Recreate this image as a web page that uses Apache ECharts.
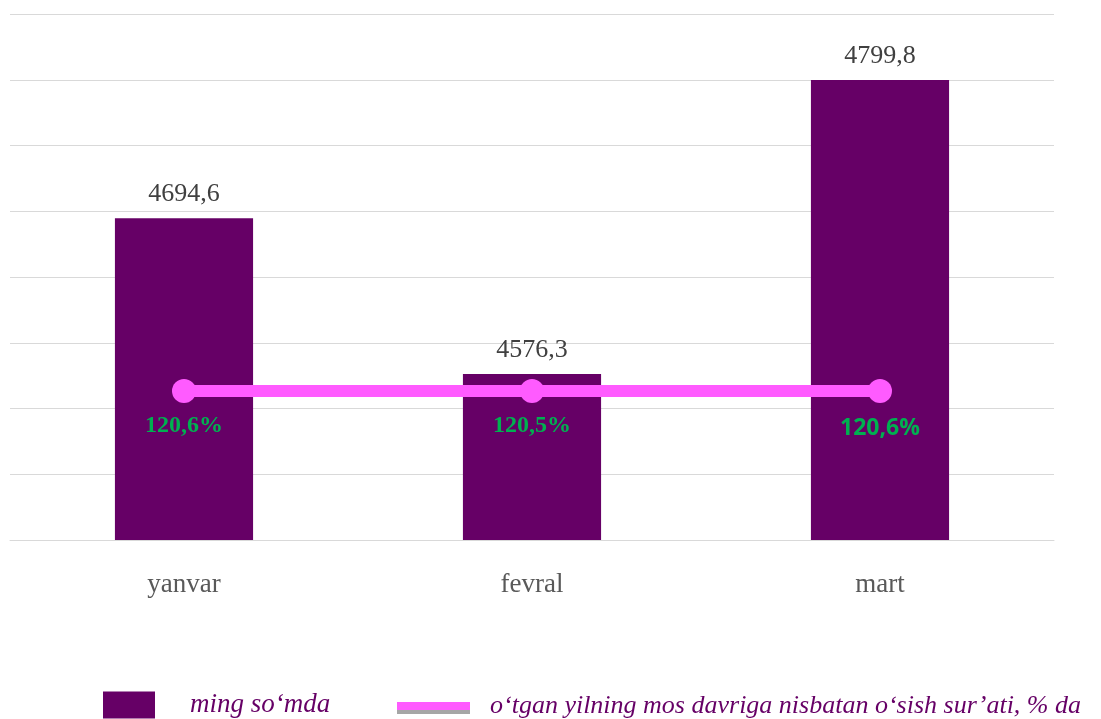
<!DOCTYPE html>
<html>
<head>
<meta charset="utf-8">
<script src="https://cdn.jsdelivr.net/npm/echarts@6/dist/echarts.min.js"></script>
<style>
  html, body { margin: 0; padding: 0; background: #fff; }
  #chart { width: 1101px; height: 719px; }
</style>
</head>
<body>
<div id="chart"></div>
<script>
  // data
  var months = ['yanvar', 'fevral', 'mart']
  var amounts = [4694.6, 4576.3, 4799.8]
  var growth = [120.6, 120.5, 120.6]
  var barName = 'ming so\u2018mda'
  var lineName = 'o\u2018tgan yilning mos davriga nisbatan o\u2018sish sur\u2019ati, % da'

  function comma (v) {
    return String(v).replace('.', ',')
  }

  var chart = echarts.init(document.getElementById('chart'))

  var lineData = growth.map(function (v, i) {
    var item = { value: v }
    // the last label is drawn in a different (sans) face in the original
    if (i === growth.length - 1) {
      item.label = { fontFamily: 'Open Sans', fontSize: 23, offset: [0, 3] }
    }
    return item
  })

  chart.setOption({
    backgroundColor: '#fff',
    animation: false,
    grid: { left: 10, right: 47, top: 14, bottom: 179 },
    legend: [
      {
        left: 103, top: 691, padding: 0,
        itemWidth: 52, itemHeight: 27,
        icon: 'rect',
        data: [barName],
        textStyle: {
          fontFamily: 'Liberation Serif', fontStyle: 'italic', fontSize: 27,
          lineHeight: 28, color: '#660066', padding: [0, 0, 0, 30]
        }
      },
      {
        left: 397, top: 692, padding: 0,
        itemWidth: 73, itemHeight: 8,
        icon: 'rect',
        data: [lineName],
        itemStyle: { shadowColor: '#a6a6a6', shadowOffsetY: 4, shadowBlur: 0 },
        textStyle: {
          fontFamily: 'Liberation Serif', fontStyle: 'italic', fontSize: 26,
          lineHeight: 28, color: '#660066', padding: [0, 0, 0, 15]
        }
      }
    ],
    xAxis: {
      type: 'category',
      data: months,
      axisLine: { lineStyle: { color: '#d9d9d9', width: 1 } },
      axisTick: { show: false },
      axisLabel: {
        margin: 31,
        color: '#595959',
        fontFamily: 'Liberation Serif',
        fontSize: 27
      }
    },
    yAxis: [
      {
        type: 'value',
        min: 4450, max: 4850, interval: 50,
        axisLabel: { show: false },
        axisLine: { show: false },
        axisTick: { show: false },
        splitLine: { lineStyle: { color: '#d9d9d9', width: 1 } }
      },
      {
        type: 'value',
        min: 0, max: 425.7,
        show: false,
        splitLine: { show: false }
      }
    ],
    series: [
      {
        name: barName,
        type: 'bar',
        data: amounts,
        barWidth: '39.7%',
        itemStyle: { color: '#660066' },
        label: {
          show: true,
          position: 'top',
          distance: 11,
          color: '#404040',
          fontFamily: 'Liberation Serif',
          fontSize: 26,
          formatter: function (p) { return comma(p.value) }
        }
      },
      {
        name: lineName,
        type: 'line',
        yAxisIndex: 1,
        data: lineData,
        symbol: 'circle',
        symbolSize: 24,
        lineStyle: { color: '#ff5bff', width: 12 },
        itemStyle: { color: '#ff5bff' },
        label: {
          show: true,
          position: 'bottom',
          distance: 11,
          color: '#00b050',
          fontWeight: 'bold',
          fontFamily: 'Liberation Serif',
          fontSize: 24,
          formatter: function (p) { return comma(p.value) + '%' }
        }
      }
    ]
  })
</script>
</body>
</html>
